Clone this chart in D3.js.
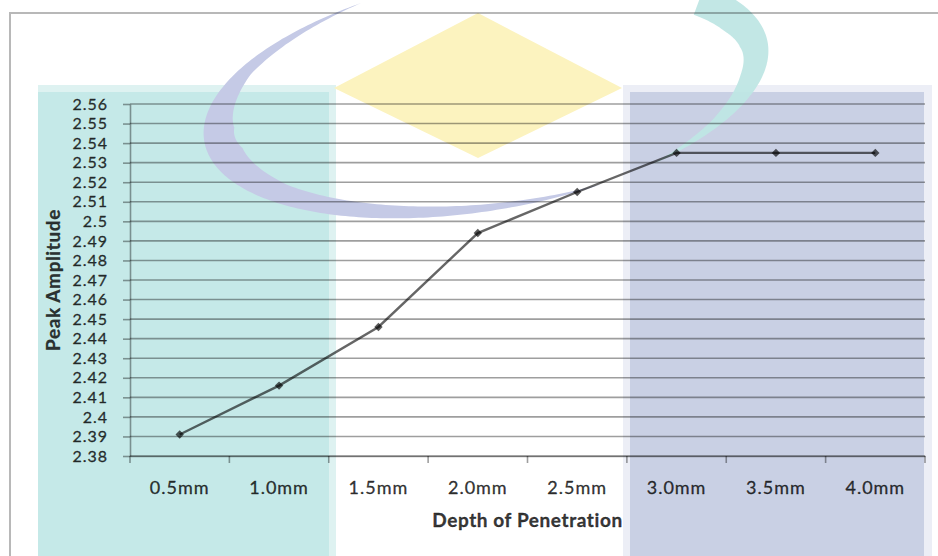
<!DOCTYPE html>
<html>
<head>
<meta charset="utf-8">
<script src="https://cdn.jsdelivr.net/npm/d3@7"></script>
<style>
  html, body { margin: 0; padding: 0; background: #ffffff; }
  svg { display: block; }
  text { font-family: Lato, "Open Sans", sans-serif; }
</style>
</head>
<body>
<div id="chart"></div>
<script>
// ---- data ----
const categories = ["0.5mm", "1.0mm", "1.5mm", "2.0mm", "2.5mm", "3.0mm", "3.5mm", "4.0mm"];
const peakAmplitude = [2.391, 2.416, 2.446, 2.494, 2.515, 2.535, 2.535, 2.535];
const yTicks = [2.38, 2.39, 2.40, 2.41, 2.42, 2.43, 2.44, 2.45, 2.46, 2.47, 2.48, 2.49,
                2.50, 2.51, 2.52, 2.53, 2.54, 2.55, 2.56];
const xTitle = "Depth of Penetration";
const yTitle = "Peak Amplitude";

// ---- layout ----
const W = 938, H = 556;
const plot = { left: 130, right: 925, top: 104, bottom: 456 };

const svg = d3.select("#chart").append("svg")
  .attr("width", W).attr("height", H);

// ---- background watermark (decorative) ----
const wm = svg.append("g").attr("class", "watermark");
wm.append("rect").attr("x", 38).attr("y", 85).attr("width", 298).attr("height", H - 85).attr("fill", "#def2f1");
wm.append("rect").attr("x", 38).attr("y", 92).attr("width", 291).attr("height", H - 92).attr("fill", "#c5e9e8");
wm.append("rect").attr("x", 623).attr("y", 85).attr("width", 309).attr("height", H - 85).attr("fill", "#eceef6");
wm.append("rect").attr("x", 630).attr("y", 92).attr("width", 294).attr("height", H - 92).attr("fill", "#c9d0e4");

// diamond
const dia = { cx: 478, cy: 88, hw: 144, top: 13, bottom: 158 };
wm.append("path")
  .attr("d", `M${dia.cx - dia.hw},${dia.cy} L${dia.cx},${dia.top} L${dia.cx + dia.hw},${dia.cy} L${dia.cx},${dia.bottom} Z`)
  .attr("fill", "#fcf3bf");

// crescent arcs on a tilted ellipse
const ell = { cx: 486, cy: 92, rx: 286, ry: 118, phi: -10 * Math.PI / 180 };
function ellPoint(tDeg, w) {
  const t = tDeg * Math.PI / 180, c = Math.cos(ell.phi), s = Math.sin(ell.phi);
  const x = ell.cx + ell.rx * Math.cos(t) * c - ell.ry * Math.sin(t) * s;
  const y = ell.cy + ell.rx * Math.cos(t) * s + ell.ry * Math.sin(t) * c;
  const tx = -ell.rx * Math.sin(t) * c - ell.ry * Math.cos(t) * s;
  const ty = -ell.rx * Math.sin(t) * s + ell.ry * Math.cos(t) * c;
  const len = Math.hypot(tx, ty);
  return [x + (-ty / len) * w, y + (tx / len) * w];
}
function crescent(t0, t1, thick) {
  const outer = [], inner = [];
  for (let t = t0; t <= t1; t += 1) {
    outer.push(ellPoint(t, 0));
    inner.push(ellPoint(t, thick(t)));
  }
  return d3.line()(outer.concat(inner.reverse())) + "Z";
}
const lavThick = d3.scaleLinear().domain([70, 110, 140, 165, 190, 215, 248]).range([0, 12, 20, 32, 30, 11, 0]).clamp(true);
const tealThick = d3.scaleLinear().domain([-35, -20, 0, 20, 40, 58]).range([32, 32, 28, 20, 8, 0]).clamp(true);
wm.append("path").attr("d", crescent(70, 248, lavThick)).attr("fill", "#c5cae6");
wm.append("path").attr("d", crescent(-35, 58, tealThick)).attr("fill", "#bfe6e4").attr("opacity", 0.95);

// chart frame
svg.append("rect").attr("x", 10).attr("y", 13).attr("width", 1000).attr("height", 700)
  .attr("fill", "none").attr("stroke", "rgba(0,0,0,0.28)").attr("stroke-width", 2);

// ---- scales ----
const x = d3.scaleBand().domain(categories).range([plot.left, plot.right]).paddingInner(0).paddingOuter(0);
const y = d3.scaleLinear().domain([yTicks[0], yTicks[yTicks.length - 1]]).range([plot.bottom, plot.top]);

const ink = "rgba(0,0,0,0.78)";
const gridInk = "rgba(0,0,0,0.38)";

function styleText(sel, size) {
  sel.attr("fill", ink).attr("font-size", size).attr("font-family", "Lato, sans-serif")
    .attr("letter-spacing", "1px").attr("stroke", ink).attr("stroke-width", 0.35);
}

// gridlines
svg.append("g").selectAll("line").data(yTicks).join("line")
  .attr("x1", plot.left).attr("x2", plot.right)
  .attr("y1", d => y(d)).attr("y2", d => y(d))
  .attr("stroke", gridInk).attr("stroke-width", 1.6);

// y axis
const yAxis = svg.append("g").attr("transform", `translate(${plot.left},0)`)
  .call(d3.axisLeft(y).tickValues(yTicks).tickFormat(d3.format(".2~f")).tickSize(7).tickSizeOuter(0).tickPadding(15));
yAxis.select(".domain").attr("stroke", gridInk).attr("stroke-width", 1.6);
yAxis.selectAll(".tick line").attr("stroke", gridInk).attr("stroke-width", 1.6);
styleText(yAxis.selectAll(".tick text"), 16);

// x axis: labels at category centres, tick marks at boundaries
const xAxis = svg.append("g").attr("transform", `translate(0,${plot.bottom})`)
  .call(d3.axisBottom(x).tickSize(0).tickPadding(25));
xAxis.select(".domain").attr("stroke", gridInk).attr("stroke-width", 1.6);
styleText(xAxis.selectAll(".tick text"), 18);
const bounds = categories.map(c => x(c)).concat([x.range()[1]]);
xAxis.append("g").selectAll("line").data(bounds).join("line")
  .attr("x1", d => d).attr("x2", d => d).attr("y1", 0).attr("y2", 7)
  .attr("stroke", gridInk).attr("stroke-width", 1.6);

// titles
const yT = svg.append("text")
  .attr("transform", `translate(52,${(plot.top + plot.bottom) / 2}) rotate(-90)`)
  .attr("text-anchor", "middle").attr("dominant-baseline", "central")
  .attr("font-weight", "bold")
  .text(yTitle);
styleText(yT, 19);
yT.attr("letter-spacing", "0.6px");
const xT = svg.append("text")
  .attr("x", (plot.left + plot.right) / 2).attr("y", 527)
  .attr("text-anchor", "middle")
  .attr("font-weight", "bold")
  .text(xTitle);
styleText(xT, 19);
xT.attr("letter-spacing", "0.6px");

// series line
const pts = categories.map((c, i) => [x(c) + x.bandwidth() / 2, y(peakAmplitude[i])]);
svg.append("path").attr("d", d3.line()(pts))
  .attr("fill", "none").attr("stroke", "rgba(0,0,0,0.6)").attr("stroke-width", 2.4);
svg.append("g").selectAll("path").data(pts).join("path")
  .attr("transform", d => `translate(${d[0]},${d[1]})`)
  .attr("d", d3.symbol(d3.symbolDiamond2, 45)())
  .attr("fill", "rgba(0,0,0,0.65)");
</script>
</body>
</html>
